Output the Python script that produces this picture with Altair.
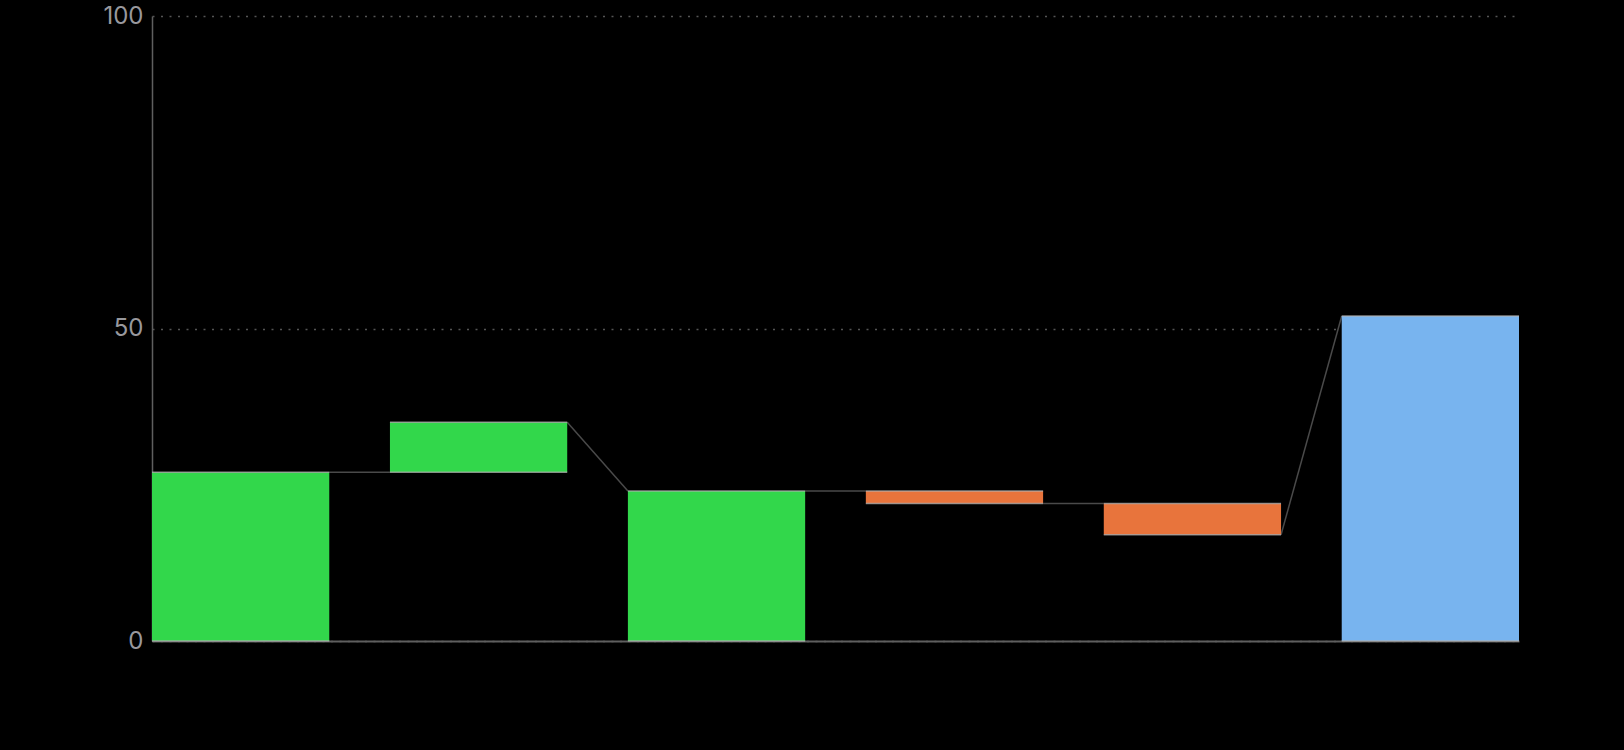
import altair as alt
import pandas as pd

# Data
categories = ["Step 1", "Step 2", "Step 3", "Step 4", "Step 5", "Total"]
starts = [0, 27, 0, 24, 22, 0]
ends = [27, 35, 24, 22, 17, 52]
kinds = ["increase", "increase", "increase", "decrease", "decrease", "total"]
connector_from = [27, 35, 24, 22, 17]
connector_to = [27, 24, 24, 22, 52]

BAND = 0.745  # fraction of each step taken by a bar

bars = pd.DataFrame({
    "category": categories,
    "idx": list(range(len(categories))),
    "start": starts,
    "end": ends,
    "kind": kinds,
})
bars["x0"] = bars["idx"]
bars["x1"] = bars["idx"] + BAND

conn = pd.DataFrame({
    "xa": [i + BAND for i in range(len(connector_from))],
    "xb": [i + 1 for i in range(len(connector_from))],
    "ya": connector_from,
    "yb": connector_to,
})

x_scale = alt.Scale(domain=[0, len(categories) - 1 + BAND], nice=False, zero=False)
y_scale = alt.Scale(domain=[0, 100], nice=False)

color_scale = alt.Scale(
    domain=["increase", "decrease", "total"],
    range=["#32D74B", "#E8743C", "#78B4EF"],
)

base = alt.Chart(bars)

bar_layer = base.mark_bar(cornerRadius=0, strokeWidth=0).encode(
    x=alt.X("x0:Q", scale=x_scale,
            axis=alt.Axis(labels=False, ticks=False, grid=False, title=None,
                          domainColor="#5f5f5f", domainWidth=2)),
    x2="x1:Q",
    y=alt.Y("start:Q", scale=y_scale,
            axis=alt.Axis(values=[0, 50, 100], title=None, tickSize=0,
                          labelPadding=9, labelFontSize=24, labelColor="#98989d",
                          labelFont="Inter", domainColor="#5f5f5f", domainWidth=1.5,
                          gridColor="#555555", gridDash=[2, 6.5], gridWidth=1.5)),
    y2="end:Q",
    color=alt.Color("kind:N", scale=color_scale, legend=None),
)

edge_top = base.mark_rule(color="#b0b0b0", strokeWidth=1.5, opacity=0.75).encode(
    x=alt.X("x0:Q", scale=x_scale), x2="x1:Q", y=alt.Y("end:Q", scale=y_scale)
)
edge_bottom = base.mark_rule(color="#b0b0b0", strokeWidth=1.5, opacity=0.75).encode(
    x=alt.X("x0:Q", scale=x_scale), x2="x1:Q", y=alt.Y("start:Q", scale=y_scale)
)

conn_layer = alt.Chart(conn).mark_rule(color="#4a4a4a", strokeWidth=1.5).encode(
    x=alt.X("xa:Q", scale=x_scale),
    x2="xb:Q",
    y=alt.Y("ya:Q", scale=y_scale),
    y2="yb:Q",
)

chart = alt.layer(conn_layer, bar_layer, edge_top, edge_bottom).properties(
    width=1367,
    height=625,
    background="#000000",
    padding={"left": 152, "top": 16, "right": 105, "bottom": 109},
    autosize="none",
).configure_view(stroke=None).configure_axis(labelFont="Inter")

chart.save("out.html", embed_options={"renderer": "svg", "actions": False})
